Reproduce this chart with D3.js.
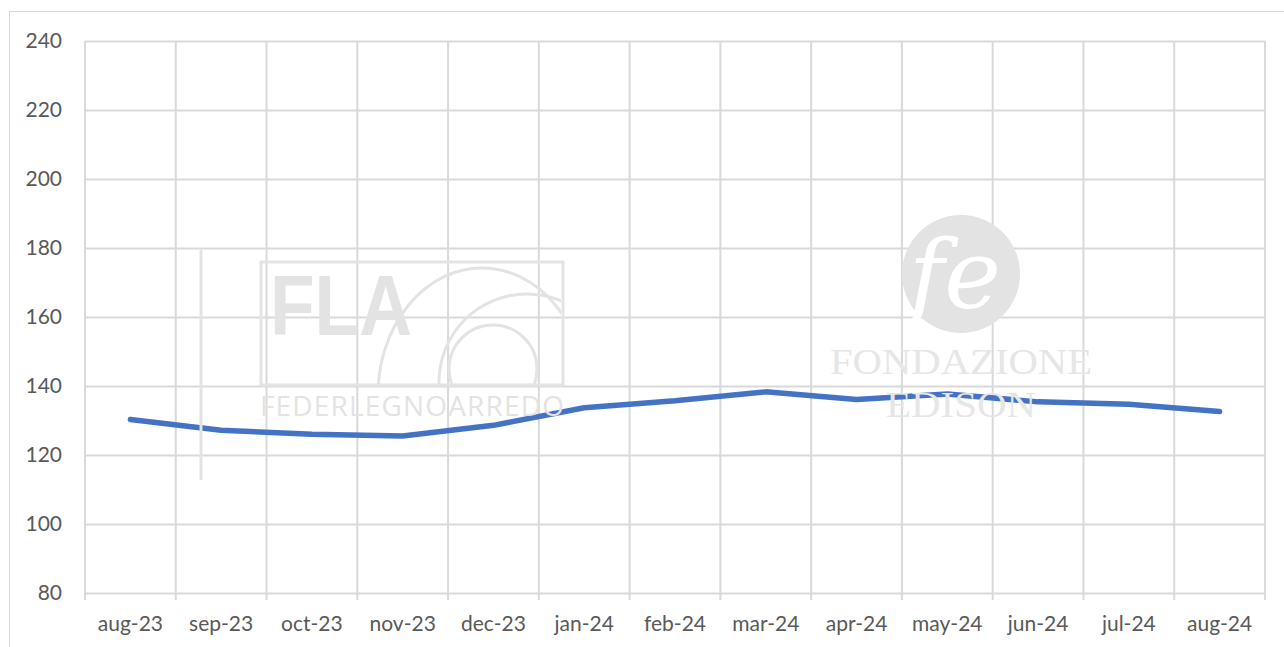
<!DOCTYPE html>
<html>
<head>
<meta charset="utf-8">
<script src="https://cdn.jsdelivr.net/npm/d3@7"></script>
<style>
  body { margin: 0; background: #fff; }
  svg { display: block; }
</style>
</head>
<body>
<div id="chart"></div>
<script>
// chart data
var months = ['aug-23', 'sep-23', 'oct-23', 'nov-23', 'dec-23', 'jan-24', 'feb-24',
              'mar-24', 'apr-24', 'may-24', 'jun-24', 'jul-24', 'aug-24'];
var values = [130.3, 127.2, 126.0, 125.5, 128.6, 133.7, 135.7, 138.3, 136.1, 137.7, 135.4, 134.7, 132.6];
var yTicks = [80, 100, 120, 140, 160, 180, 200, 220, 240];

var W = 1284, H = 647;
var margin = {top: 41, right: 19, bottom: 54, left: 85};
var width = W - margin.left - margin.right,
    height = H - margin.top - margin.bottom;
var gridColor = '#d9d9d9', markColor = '#e3e3e3';
var labelFont = 'Lato, "Open Sans", sans-serif';

var svg = d3.select('#chart').append('svg')
    .attr('width', W)
    .attr('height', H);

// outer chart border
svg.append('rect')
    .attr('x', 9.5).attr('y', 11.5)
    .attr('width', W).attr('height', H)
    .attr('fill', 'none')
    .attr('stroke', gridColor);

var g = svg.append('g')
    .attr('transform', 'translate(' + margin.left + ',' + margin.top + ')');

var x = d3.scaleBand().domain(months).range([0, width]);
var y = d3.scaleLinear().domain([80, 240]).range([height, 0]);

// watermarks (background picture of the plot area)
var wm = svg.append('g');
// FLA logo
wm.append('line')
    .attr('x1', 201).attr('x2', 201).attr('y1', 250).attr('y2', 480)
    .attr('stroke', markColor).attr('stroke-width', 3);
wm.append('rect')
    .attr('x', 261).attr('y', 262).attr('width', 302).attr('height', 123)
    .attr('fill', 'none').attr('stroke', markColor).attr('stroke-width', 3);
wm.append('text')
    .attr('x', 270).attr('y', 335)
    .attr('font-family', '"Liberation Sans", Arial, sans-serif')
    .attr('font-weight', 'bold').attr('font-size', 86)
    .attr('textLength', 142).attr('lengthAdjust', 'spacingAndGlyphs')
    .attr('fill', markColor).text('FLA');
var clip = wm.append('clipPath').attr('id', 'flaclip');
clip.append('rect').attr('x', 261).attr('y', 262).attr('width', 300).attr('height', 122);
var arcs = wm.append('g').attr('clip-path', 'url(#flaclip)')
    .attr('fill', 'none').attr('stroke', markColor).attr('stroke-width', 3);
arcs.append('ellipse').attr('cx', 482).attr('cy', 395).attr('rx', 104).attr('ry', 127);
arcs.append('circle').attr('cx', 527).attr('cy', 382).attr('r', 88);
arcs.append('circle').attr('cx', 493).attr('cy', 369).attr('r', 44);
wm.append('text')
    .attr('x', 260).attr('y', 416)
    .attr('font-family', '"Open Sans", sans-serif').attr('font-size', 28)
    .attr('textLength', 304).attr('lengthAdjust', 'spacing')
    .attr('fill', markColor).text('FEDERLEGNOARREDO');
// Fondazione Edison logo
wm.append('circle')
    .attr('cx', 961).attr('cy', 274).attr('r', 59)
    .attr('fill', markColor);
wm.append('text')
    .attr('x', 955).attr('y', 308)
    .attr('text-anchor', 'middle')
    .attr('font-family', '"DejaVu Serif", serif').attr('font-style', 'italic')
    .attr('font-size', 96).attr('fill', '#fff').text('fe');
wm.append('text')
    .attr('x', 961).attr('y', 374).attr('text-anchor', 'middle')
    .attr('font-family', '"Liberation Serif", serif').attr('font-size', 36)
    .attr('textLength', 262).attr('lengthAdjust', 'spacingAndGlyphs')
    .attr('fill', '#e6e6e6').text('FONDAZIONE');
wm.append('text')
    .attr('x', 961).attr('y', 417).attr('text-anchor', 'middle')
    .attr('font-family', '"Liberation Serif", serif').attr('font-size', 36)
    .attr('textLength', 150).attr('lengthAdjust', 'spacingAndGlyphs')
    .attr('fill', '#e6e6e6').text('EDISON');

// horizontal gridlines + y labels
var yAxis = g.append('g')
    .call(d3.axisLeft(y).tickValues(yTicks).tickSize(-width).tickPadding(23));
yAxis.select('.domain').remove();
yAxis.selectAll('line').attr('stroke', gridColor).attr('stroke-width', 2);
yAxis.selectAll('text')
    .attr('fill', '#595959')
    .attr('font-family', labelFont)
    .attr('font-size', 21);

// vertical gridlines at category boundaries
var bounds = months.map(function(m) { return x(m); }).concat([x.range()[1]]);
g.append('g').selectAll('line')
    .data(bounds)
    .enter().append('line')
    .attr('x1', function(d) { return d; })
    .attr('x2', function(d) { return d; })
    .attr('y1', 0).attr('y2', height + 7)
    .attr('stroke', gridColor).attr('stroke-width', 2);

// x labels
var xAxis = g.append('g')
    .attr('transform', 'translate(0,' + height + ')')
    .call(d3.axisBottom(x).tickSize(0).tickPadding(23));
xAxis.select('.domain').remove();
xAxis.selectAll('text')
    .attr('fill', '#595959')
    .attr('font-family', labelFont)
    .attr('font-size', 21);

// series line
var line = d3.line()
    .x(function(d, i) { return x(months[i]) + x.bandwidth() / 2; })
    .y(function(d) { return y(d); });
g.append('path')
    .datum(values)
    .attr('d', line)
    .attr('fill', 'none')
    .attr('stroke', '#4472c4')
    .attr('stroke-width', 5.5)
    .attr('stroke-linecap', 'round')
    .attr('stroke-linejoin', 'round');
</script>
</body>
</html>
